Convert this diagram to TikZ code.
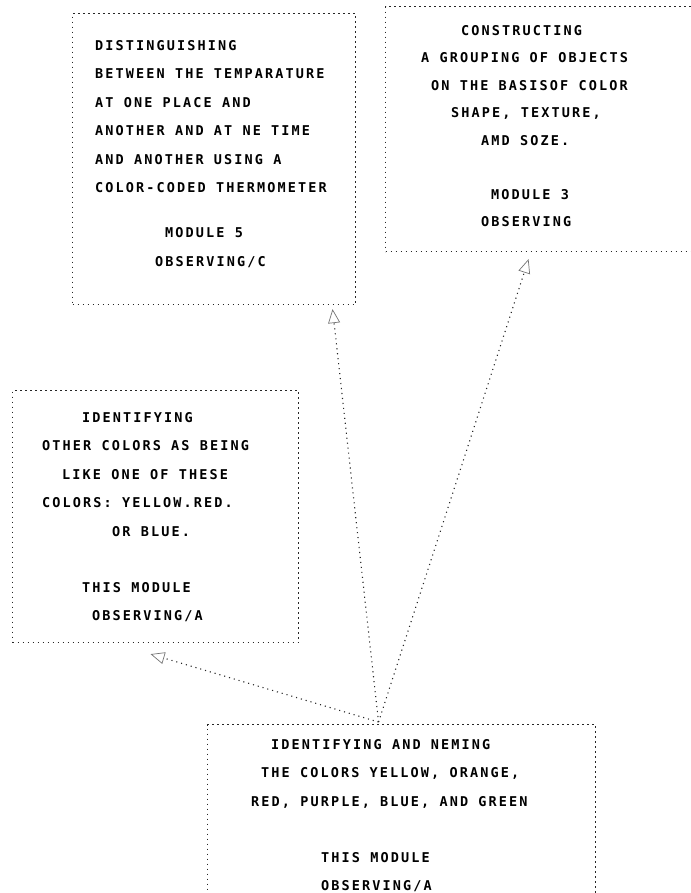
\documentclass[tikz,border=0pt]{standalone}
\usepackage{fontspec}
\usepackage{tikz}
\usetikzlibrary{positioning,arrows.meta,calc}
\newfontfamily\plotfont[LetterSpace=15.7]{DejaVu Sans Mono Bold}
\newlength\plotpitch
\setlength\plotpitch{10pt}
\newcommand\pad[1]{\hspace*{#1\plotpitch}}

\begin{document}
\begin{tikzpicture}[
    x=1pt, y=-1pt,
    box/.style={draw=black!85, line width=1.1pt, dash pattern=on 1.1pt off 3.9pt, inner sep=0pt, anchor=north west},
    txt/.style={font=\plotfont\fontsize{13.5}{28.5}\selectfont, align=left, inner sep=0pt, anchor=north west},
    link/.style={draw=black!85, line width=1.1pt, dash pattern=on 1.1pt off 3.9pt,
        -{Triangle[open, length=14pt, width=12pt, line width=0.7pt, color=black!55]}}
]
    \useasboundingbox (0,0) rectangle (690,893);

    % Module boxes
    \node[box, minimum width=283pt, minimum height=291pt] (m5) at (72,13) {};
    \node[box, minimum width=315pt, minimum height=245pt] (m3) at (385,6) {};
    \node[box, minimum width=286pt, minimum height=252pt] (oth) at (12,390) {};
    \node[box, minimum width=388pt, minimum height=230pt] (base) at (207,724) {};

    % Box texts
    \node[txt] (m5txt) at ([xshift=23pt, yshift=-27pt]m5.north west) {%
        DISTINGUISHING\\
        BETWEEN THE TEMPARATURE\\
        AT ONE PLACE AND\\
        ANOTHER AND AT NE TIME\\
        AND ANOTHER USING A\\
        COLOR-CODED THERMOMETER\\[16.5pt]
        \pad{7}MODULE 5\\
        \pad{6}OBSERVING/C};
    \node[txt, font=\plotfont\fontsize{13.5}{27.5}\selectfont] (m3txt) at ([xshift=36pt, yshift=-19pt]m3.north west) {%
        \pad{4}CONSTRUCTING\\
        A GROUPING OF OBJECTS\\
        \pad{1}ON THE BASISOF COLOR\\
        \pad{3}SHAPE, TEXTURE,\\
        \pad{6}AMD SOZE.\\[26.5pt]
        \pad{7}MODULE 3\\
        \pad{6}OBSERVING};
    \node[txt] (othtxt) at ([xshift=30pt, yshift=-22pt]oth.north west) {%
        \pad{4}IDENTIFYING\\
        OTHER COLORS AS BEING\\
        \pad{2}LIKE ONE OF THESE\\
        COLORS: YELLOW.RED.\\
        \pad{7}OR BLUE.\\[27.5pt]
        \pad{4}THIS MODULE\\
        \pad{5}OBSERVING/A};
    \node[txt] (basetxt) at ([xshift=44pt, yshift=-15pt]base.north west) {%
        \pad{2}IDENTIFYING AND NEMING\\
        \pad{1}THE COLORS YELLOW, ORANGE,\\
        RED, PURPLE, BLUE, AND GREEN\\[27.5pt]
        \pad{7}THIS MODULE\\
        \pad{7}OBSERVING/A};

    % Connections
    \coordinate (src) at ([xshift=-23pt, yshift=2pt]base.north);
    \draw[link] (src) -- ([xshift=118.5pt, yshift=-4pt]m5.south);
    \draw[link] (src) -- ([xshift=-14.5pt, yshift=-7pt]m3.south);
    \draw[link] (src) -- ([xshift=-5pt, yshift=-11pt]oth.south);
\end{tikzpicture}
\end{document}
